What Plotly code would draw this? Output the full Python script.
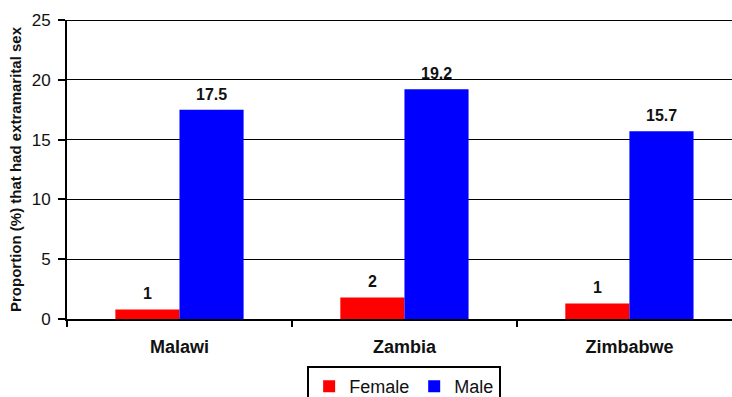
import plotly.graph_objects as go

countries = ["Malawi", "Zambia", "Zimbabwe"]
female = [0.8, 1.8, 1.3]
male = [17.5, 19.2, 15.7]
female_labels = ["1", "2", "1"]
male_labels = ["17.5", "19.2", "15.7"]
y_ticks = [0, 5, 10, 15, 20, 25]

FONT = "Liberation Sans, Arial, sans-serif"
bargap = 0.43
off = (1 - bargap) / 4

fig = go.Figure()
fig.add_trace(go.Bar(name="Female", x=countries, y=female, marker=dict(color="#FF0000", line=dict(width=0))))
fig.add_trace(go.Bar(name="Male", x=countries, y=male, marker=dict(color="#0000FF", line=dict(width=0))))

anns = []
for i in range(len(countries)):
    anns.append(dict(x=i - off, y=female[i], text=f"<b>{female_labels[i]}</b>", showarrow=False,
                     xref="x", yref="y", yanchor="bottom", yshift=5,
                     font=dict(family=FONT, size=16, color="#111")))
    anns.append(dict(x=i + off, y=male[i], text=f"<b>{male_labels[i]}</b>", showarrow=False,
                     xref="x", yref="y", yanchor="bottom", yshift=5,
                     font=dict(family=FONT, size=16, color="#111")))

fig.update_layout(
    width=732, height=397,
    margin=dict(l=67, r=0, t=20, b=78, autoexpand=False),
    paper_bgcolor="white", plot_bgcolor="white",
    barmode="group", bargap=bargap, bargroupgap=0,
    font=dict(family=FONT, color="#111"),
    annotations=anns,
    shapes=[dict(type="line", xref="paper", yref="y", x0=0, x1=1, y0=25, y1=25,
                 line=dict(color="black", width=2))],
    legend=dict(orientation="h", x=0.507, xanchor="center", y=-0.157, yanchor="top",
                bordercolor="black", borderwidth=2, bgcolor="white",
                font=dict(family=FONT, size=18, color="#111"),
                itemwidth=30, tracegroupgap=0),
    showlegend=True,
)
fig.update_xaxes(
    type="category", range=[-0.5, 2.456], automargin=False,
    showline=True, linecolor="black", linewidth=2,
    ticks="outside", tickson="boundaries", ticklen=6, tickwidth=2, tickcolor="black",
    tickfont=dict(family=FONT, size=18, color="#111", weight="bold"),
    ticklabelstandoff=10,
    showgrid=False,
)
fig.update_yaxes(
    range=[0, 25], tickvals=y_ticks, automargin=False,
    showline=True, linecolor="black", linewidth=2,
    ticks="outside", ticklen=7, tickwidth=2, tickcolor="black",
    tickfont=dict(family=FONT, size=17, color="#111"),
    ticklabelstandoff=4,
    showgrid=True, gridcolor="black", gridwidth=1,
    zeroline=False,
    title=dict(text="<b>Proportion (%) that had extramarital sex</b>",
               font=dict(family=FONT, size=15, color="#111"), standoff=6),
)

fig.write_html("out.html")
